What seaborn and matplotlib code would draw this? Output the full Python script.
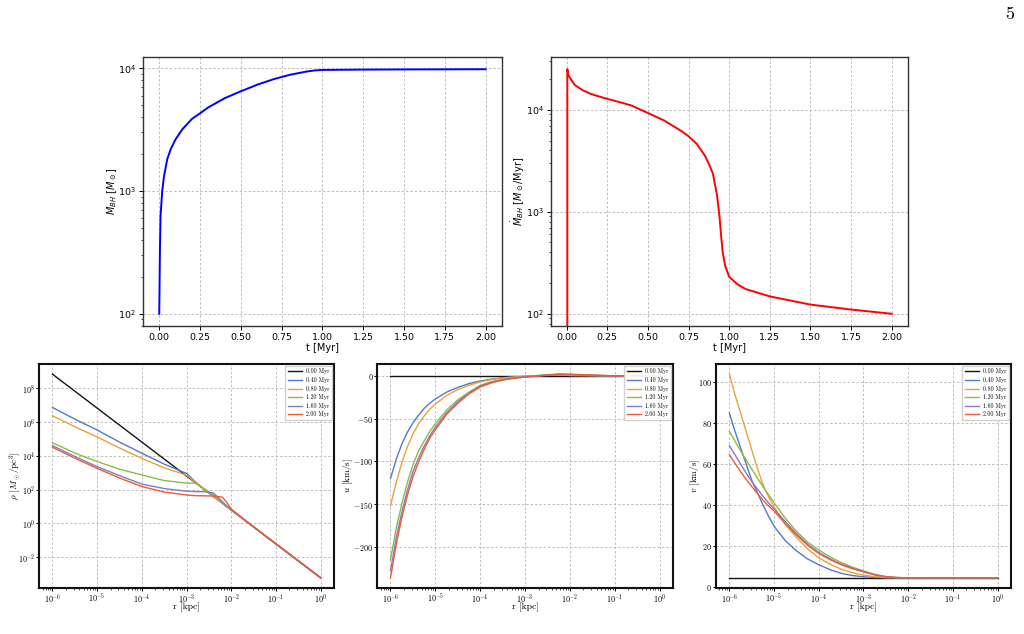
import numpy as np
import pandas as pd
import matplotlib
matplotlib.use("Agg")
import matplotlib.pyplot as plt
import seaborn as sns

# ---------------- data ----------------
# Top-left: black-hole mass vs time
T_M = [0.0, 0.004, 0.008, 0.018, 0.029, 0.049, 0.07, 0.1, 0.14, 0.2, 0.25, 0.3, 0.4,
       0.5, 0.6, 0.7, 0.8, 0.9, 0.95, 1.0, 1.25, 1.5, 1.75, 2.0]
M_BH = [100, 330, 630, 1000, 1320, 1820, 2190, 2640, 3170, 3870, 4300, 4800, 5700,
        6500, 7350, 8150, 8850, 9400, 9600, 9700, 9760, 9790, 9810, 9830]

# Top-right: accretion rate vs time
T_MDOT = [0.0035, 0.004, 0.01, 0.025, 0.05, 0.1, 0.15, 0.2, 0.25, 0.3, 0.35, 0.4, 0.45,
          0.5, 0.6, 0.7, 0.75, 0.8, 0.85, 0.875, 0.9, 0.925, 0.94, 0.95, 0.96, 0.975,
          1.0, 1.05, 1.1, 1.25, 1.5, 1.75, 2.0]
MDOT = [0, 25000, 22000, 20000, 17500, 15500, 14300, 13500, 12800, 12200, 11600, 11000, 10100,
        9300, 7850, 6270, 5500, 4640, 3560, 2950, 2360, 1450, 910, 585, 400, 296,
        230, 195, 175, 148, 123, 110, 100]

# Bottom panels
TIMES = ["0.00 Myr", "0.40 Myr", "0.80 Myr", "1.20 Myr", "1.60 Myr", "2.00 Myr"]
COLORS = ["#141414", "#4f7cc9", "#eaa136", "#8fba46", "#8779c2", "#ee5a36"]

# density profile (log10 r [kpc], log10 rho [Msun/pc^3])
LOGR_RHO = [-6, -5.5, -5, -4.5, -4, -3.5, -3, -2.8, -2.6, -2.4, -2.2, -2.1, -2.0,
            -1.5, -1, -0.5, 0]
LOGRHO = [
    [8.8, 7.8, 6.8, 5.8, 4.8, 3.8, 2.8, 2.4, 2.0, 1.6, 1.2, 1.0, 0.8, -0.2, -1.2, -2.2, -3.2],
    [6.84, 6.15, 5.51, 4.8, 4.14, 3.5, 2.95, 2.45, 2.0, 1.6, 1.2, 1.0, 0.8, -0.2, -1.2, -2.2, -3.2],
    [6.35, 5.7, 5.1, 4.45, 3.84, 3.28, 2.85, 2.42, 2.0, 1.6, 1.2, 1.0, 0.8, -0.2, -1.2, -2.2, -3.2],
    [4.76, 4.15, 3.65, 3.2, 2.86, 2.53, 2.38, 2.37, 2.05, 1.7, 1.25, 1.03, 0.8, -0.2, -1.2, -2.2, -3.2],
    [4.59, 3.95, 3.35, 2.82, 2.32, 2.06, 1.9, 1.88, 1.87, 1.8, 1.3, 1.02, 0.8, -0.2, -1.2, -2.2, -3.2],
    [4.49, 3.85, 3.25, 2.68, 2.18, 1.85, 1.68, 1.64, 1.63, 1.62, 1.55, 1.25, 0.85, -0.2, -1.2, -2.2, -3.2],
]

# velocity profiles (log10 r [kpc])
LOGR_VEL = [-6, -5.875, -5.75, -5.625, -5.5, -5.375, -5.25, -5.125, -5, -4.75, -4.5,
            -4.25, -4, -3.75, -3.5, -3.25, -3, -2.75, -2.5, -2.25, -2, -1, 0]
U_VALS = [
    [0] * 23,
    [-120, -98, -80, -66, -55, -46, -38, -32, -27, -19, -13.5, -9, -6, -3.8, -2.2, -1.2,
     -0.5, 0, 0.5, 1, 0.5, 0, 0],
    [-152, -125, -102, -83, -68, -56, -47, -39, -33, -23, -16, -11, -7, -4.3, -2.6, -1.4,
     -0.6, 0.2, 1, 1.5, 0.5, 0, 0],
    [-215, -179, -150, -125, -104, -88, -76, -65, -56, -40, -28, -19, -11, -6.8, -4, -2.2,
     -1, 0.3, 1.5, 2, 1, 0, 0],
    [-228, -190, -160, -134, -112, -96, -82, -70, -60, -43, -30, -20, -12, -7.5, -4.5, -2.5,
     -1.2, 0, 1, 2, 1.5, 0, 0],
    [-236, -198, -166, -140, -118, -101, -86, -73, -63, -45, -32, -21, -13, -8.2, -5, -2.8,
     -1.5, -0.2, 0.8, 2, 2, 0, 0],
]
V_VALS = [
    [4.3] * 23,
    [85, 76, 68, 60, 52, 46, 40, 34.5, 29.5, 22.5, 17.5, 13.5, 10.7, 8.3, 6.5, 5.4,
     4.8, 4.5, 4.4, 4.3, 4.3, 4.3, 4.3],
    [104, 94, 85, 76, 67, 58, 50, 44, 39, 30.5, 24, 18.5, 14, 11, 8.5, 6.8,
     5.6, 4.8, 4.4, 4.3, 4.3, 4.3, 4.3],
    [76, 71.2, 66.5, 62, 57.5, 53.2, 49, 45, 41, 33.5, 27, 21.8, 17.9, 14.6, 11.8, 9.5,
     7.7, 6.0, 4.9, 4.4, 4.3, 4.3, 4.3],
    [69, 64.5, 60, 55.5, 51.5, 47.8, 44.3, 41, 38, 31.8, 25.9, 20.8, 16.7, 13.6, 11, 9,
     7.4, 5.8, 4.8, 4.4, 4.3, 4.3, 4.3],
    [64.5, 60.3, 56.3, 52.5, 49, 45.6, 42.4, 39.5, 37, 30.8, 25.2, 20.2, 16.2, 13.2, 10.7, 8.8,
     7.2, 5.7, 4.8, 4.4, 4.3, 4.3, 4.3],
]

# ---------------- figure ----------------
GRID_KW = dict(color="#bdbdbd", linestyle=(0, (2.5, 2)), linewidth=0.7)

fig = plt.figure(figsize=(10.24, 6.34), dpi=100)

ax1 = fig.add_axes([0.1396, 0.4858, 0.3506, 0.4243])
ax2 = fig.add_axes([0.5381, 0.4858, 0.3486, 0.4243])

sns.lineplot(x=T_M, y=M_BH, ax=ax1, color="blue", lw=1.4, estimator=None, sort=False)
sns.lineplot(x=T_MDOT, y=MDOT, ax=ax2, color="red", lw=1.4, estimator=None, sort=False)
for ax, lab, lx in [(ax1, r"$M_{BH}$ [$M_\odot$]", -0.067),
                    (ax2, r"$\dot{M}_{BH}$ [$M_\odot$/Myr]", -0.068)]:
    ax.set_yscale("log")
    ax.set_xticks([0, 0.25, 0.5, 0.75, 1.0, 1.25, 1.5, 1.75, 2.0])
    ax.set_xticklabels(["0.00", "0.25", "0.50", "0.75", "1.00", "1.25", "1.50", "1.75", "2.00"])
    ax.set_xlabel("t [Myr]", fontsize=7, labelpad=1)
    ax.set_ylabel(lab, fontsize=7)
    ax.yaxis.set_label_coords(lx, 0.5)
    ax.tick_params(labelsize=6.8, length=3, width=0.7, pad=2)
    ax.tick_params(which="minor", length=1.8, width=0.5)
    ax.grid(True, which="major", **GRID_KW)
    ax.set_axisbelow(True)
    for s in ax.spines.values():
        s.set_color("#333333")
        s.set_linewidth(1.0)

bottom_rc = {"font.family": "cmr10", "mathtext.fontset": "cm",
             "axes.formatter.use_mathtext": True}
with plt.rc_context(bottom_rc):
    b1 = fig.add_axes([0.0381, 0.0726, 0.2881, 0.3533])
    b2 = fig.add_axes([0.3682, 0.0726, 0.2891, 0.3533])
    b3 = fig.add_axes([0.6992, 0.0726, 0.2881, 0.3533])

    r_rho = [10.0 ** x for x in LOGR_RHO]
    r_vel = [10.0 ** x for x in LOGR_VEL]
    for i, (lab, col) in enumerate(zip(TIMES, COLORS)):
        rho = [10.0 ** y for y in LOGRHO[i]]
        sns.lineplot(x=r_rho, y=rho, ax=b1, color=col, lw=1.0, label=lab,
                     estimator=None, sort=False)
        sns.lineplot(x=r_vel, y=U_VALS[i], ax=b2, color=col, lw=1.0, label=lab,
                     estimator=None, sort=False)
        sns.lineplot(x=r_vel, y=V_VALS[i], ax=b3, color=col, lw=1.0, label=lab,
                     estimator=None, sort=False)

    b1.set_yscale("log")
    b1.set_yticks([1e-2, 1e0, 1e2, 1e4, 1e6, 1e8])
    b1.yaxis.set_minor_locator(matplotlib.ticker.NullLocator())
    b2.set_yticks([0, -50, -100, -150, -200])
    b3.set_yticks([0, 20, 40, 60, 80, 100])

    ylabels = [r"$\rho$ [$M_\odot$/pc$^3$]", r"$u$ [km/s]", r"$v$ [km/s]"]
    ylx = [-0.054, -0.075, -0.047]
    for ax, yl, lx in zip([b1, b2, b3], ylabels, ylx):
        ax.set_xscale("log")
        ax.set_xticks([1e-6, 1e-5, 1e-4, 1e-3, 1e-2, 1e-1, 1e0])
        ax.set_xlabel("r [kpc]", fontsize=7)
        ax.xaxis.set_label_coords(0.5, -0.066)
        ax.set_ylabel(yl, fontsize=6.6)
        ax.yaxis.set_label_coords(lx, 0.5)
        ax.tick_params(labelsize=5.8, length=2.2, width=0.7, pad=0.5)
        ax.tick_params(which="minor", length=1.4, width=0.5)
        ax.grid(True, which="major", **GRID_KW)
        ax.set_axisbelow(True)
        for s in ax.spines.values():
            s.set_color("#111111")
            s.set_linewidth(1.5)
        ax.legend(loc="upper right", fontsize=4.2, frameon=True, fancybox=False,
                  edgecolor="#cccccc", framealpha=0.9, borderaxespad=0.35,
                  handlelength=2.4, labelspacing=0.45, borderpad=0.4)
        for axis in (ax.xaxis, ax.yaxis):
            axis.get_major_ticks()
            axis.get_minor_ticks()

    fig.text(1010 / 1024, 1 - 14 / 634, "5", ha="center", va="center",
             fontsize=13, family="cmr10")
    fig.canvas.draw()

fig.savefig("out.png", dpi=100)
